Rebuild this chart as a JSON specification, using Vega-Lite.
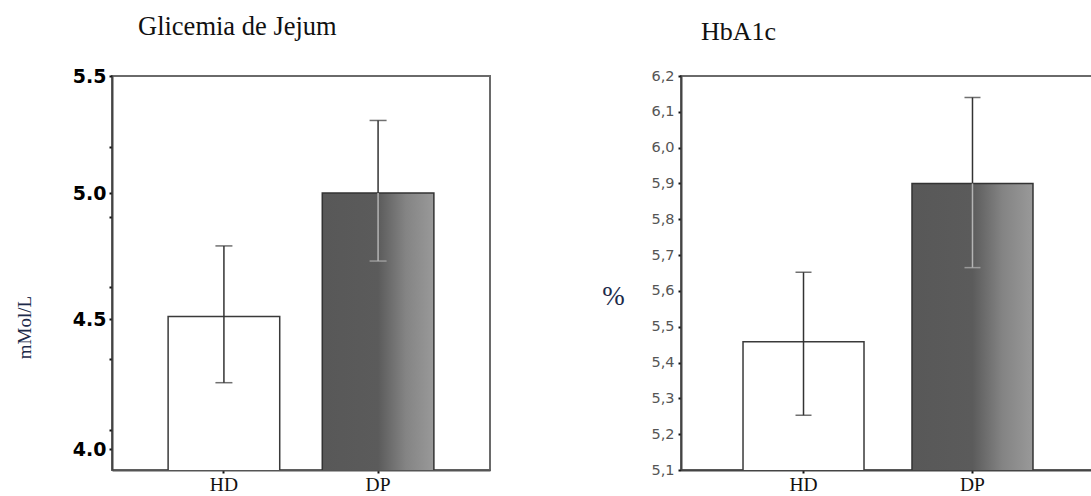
{
  "$schema": "https://vega.github.io/schema/vega-lite/v6.json",
  "background": "white",
  "padding": {"left": 14, "top": 12, "right": 0, "bottom": 0},
  "datasets": {
    "glic": [
      {"grupo": "HD", "media": 4.51, "inf": 4.255, "sup": 4.79},
      {"grupo": "DP", "media": 5.0, "inf": 4.73, "sup": 5.31}
    ],
    "hba": [
      {"grupo": "HD", "media": 5.458, "inf": 5.253, "sup": 5.652},
      {"grupo": "DP", "media": 5.9, "inf": 5.665, "sup": 6.14}
    ]
  },
  "config": {
    "view": {"stroke": "#6a6a6a", "strokeWidth": 2},
    "axis": {"grid": false, "labelOverlap": false}
  },
  "hconcat": [
    {
      "width": 378,
      "height": 394,
      "title": {"text": "Glicemia de Jejum", "anchor": "start", "frame": "group", "dx": 26, "offset": 27, "font": "Liberation Serif", "fontSize": 26.5, "fontWeight": "normal", "color": "#111111"},
      "data": {"name": "glic"},
      "encoding": {
        "x": {
          "field": "grupo", "type": "nominal", "sort": ["HD", "DP"],
          "scale": {"paddingInner": 0.276, "paddingOuter": 0.364},
          "axis": {"title": null, "labelAngle": 0, "labelFont": "Liberation Serif", "labelFontSize": 19.5, "labelColor": "#111111", "labelPadding": 2, "tickSize": 3, "tickWidth": 2, "tickColor": "#111111", "domainColor": "#555555", "domainWidth": 2}
        },
        "y": {
          "field": "media", "type": "quantitative",
          "scale": {"domain": [3.919, 4.0, 4.5, 5.0, 5.5], "range": [394, 373, 243, 117, 0], "zero": false, "nice": false},
          "axis": {
            "title": "mMol/L", "titleFont": "Liberation Serif", "titleFontSize": 19, "titleFontWeight": "normal", "titleColor": "#1c2a4a",
            "titleX": -88, "titleY": 251, "titleAlign": "center", "titleBaseline": "middle", "titleAngle": -90,
            "values": [4.0, 4.073, 4.346, 4.5, 4.627, 4.905, 5.0, 5.197, 5.5],
            "labelOverlap": false, "labelBound": false,
            "labelExpr": "indexof([4, 4.5, 5, 5.5], datum.value) >= 0 ? format(datum.value, '.1f') : ''",
            "labelFont": "DejaVu Sans", "labelFontWeight": "bold", "labelFontSize": 19, "labelColor": "#000000", "labelPadding": 3,
            "tickSize": 3, "tickWidth": 2, "tickColor": "#111111", "domainColor": "#444444", "domainWidth": 2
          }
        }
      },
      "layer": [
        {
          "transform": [{"filter": "datum.grupo == 'HD'"}],
          "mark": {"type": "bar", "clip": true, "fill": "white", "stroke": "#3a3a3a", "strokeWidth": 1.5}
        },
        {
          "transform": [{"filter": "datum.grupo == 'DP'"}],
          "mark": {
            "type": "bar", "clip": true, "stroke": "#333333", "strokeWidth": 1.5,
            "fill": {"gradient": "linear", "x1": 0, "y1": 0, "x2": 1, "y2": 0,
              "stops": [{"offset": 0, "color": "#585858"}, {"offset": 0.5, "color": "#5b5b5b"}, {"offset": 0.75, "color": "#848484"}, {"offset": 1, "color": "#999999"}]}
          }
        },
        {
          "mark": {"type": "rule", "strokeWidth": 1.5, "color": "#333333"},
          "encoding": {"y2": {"field": "sup"}}
        },
        {
          "mark": {"type": "rule", "strokeWidth": 1.5},
          "encoding": {
            "y2": {"field": "inf"},
            "color": {"condition": {"test": "datum.grupo == 'DP'", "value": "#b4b4b4"}, "value": "#333333"}
          }
        },
        {
          "mark": {"type": "tick", "orient": "horizontal", "size": 17, "thickness": 1.5, "color": "#333333"},
          "encoding": {"y": {"field": "sup", "type": "quantitative"}}
        },
        {
          "mark": {"type": "tick", "orient": "horizontal", "size": 17, "thickness": 1.5},
          "encoding": {
            "y": {"field": "inf", "type": "quantitative"},
            "color": {"condition": {"test": "datum.grupo == 'DP'", "value": "#b4b4b4"}, "value": "#333333"}
          }
        },
        {
          "data": {"values": [{"nota": "p < 0.05"}]},
          "mark": {"type": "text", "font": "Liberation Sans", "fontStyle": "italic", "fontSize": 17, "color": "#666666"},
          "encoding": {"x": {"datum": "HD"}, "y": {"datum": 5.27}, "text": {"field": "nota"}}
        }
      ]
    },
    {
      "width": 414,
      "height": 394,
      "title": {"text": "HbA1c", "anchor": "start", "frame": "group", "dx": 20, "offset": 23, "font": "Liberation Serif", "fontSize": 26, "fontWeight": "normal", "color": "#111111"},
      "data": {"name": "hba"},
      "encoding": {
        "x": {
          "field": "grupo", "type": "nominal", "sort": ["HD", "DP"],
          "scale": {"paddingInner": 0.284, "paddingOuter": 0.367},
          "axis": {"title": null, "labelAngle": 0, "labelFont": "Liberation Serif", "labelFontSize": 19.5, "labelColor": "#111111", "labelPadding": 2, "tickSize": 3, "tickWidth": 2, "tickColor": "#111111", "domainColor": "#444444", "domainWidth": 2}
        },
        "y": {
          "field": "media", "type": "quantitative",
          "scale": {"domain": [5.1, 6.2], "zero": false, "nice": false},
          "axis": {
            "title": "%", "titleFont": "Liberation Serif", "titleFontSize": 27, "titleFontWeight": "normal", "titleColor": "#1c2a4a",
            "titleX": -68, "titleY": 220, "titleAlign": "center", "titleBaseline": "middle", "titleAngle": 0,
            "values": [5.1, 5.2, 5.3, 5.4, 5.5, 5.6, 5.7, 5.8, 5.9, 6.0, 6.1, 6.2],
            "tickCount": 12,
            "labelOverlap": false, "labelBound": false, "labelFlush": false,
            "format": ".1f",
            "labelExpr": "replace(datum.label, '.', ',')",
            "labelFont": "DejaVu Sans", "labelFontSize": 14.5, "labelColor": "#555555", "labelPadding": 4,
            "tickSize": 3, "tickWidth": 2, "tickColor": "#111111", "domainColor": "#444444", "domainWidth": 2
          }
        }
      },
      "layer": [
        {
          "transform": [{"filter": "datum.grupo == 'HD'"}],
          "mark": {"type": "bar", "clip": true, "fill": "white", "stroke": "#3a3a3a", "strokeWidth": 1.5}
        },
        {
          "transform": [{"filter": "datum.grupo == 'DP'"}],
          "mark": {
            "type": "bar", "clip": true, "stroke": "#333333", "strokeWidth": 1.5,
            "fill": {"gradient": "linear", "x1": 0, "y1": 0, "x2": 1, "y2": 0,
              "stops": [{"offset": 0, "color": "#585858"}, {"offset": 0.5, "color": "#5b5b5b"}, {"offset": 0.75, "color": "#848484"}, {"offset": 1, "color": "#999999"}]}
          }
        },
        {
          "mark": {"type": "rule", "strokeWidth": 1.5, "color": "#333333"},
          "encoding": {"y2": {"field": "sup"}}
        },
        {
          "mark": {"type": "rule", "strokeWidth": 1.5},
          "encoding": {
            "y2": {"field": "inf"},
            "color": {"condition": {"test": "datum.grupo == 'DP'", "value": "#b4b4b4"}, "value": "#333333"}
          }
        },
        {
          "mark": {"type": "tick", "orient": "horizontal", "size": 16, "thickness": 1.5, "color": "#333333"},
          "encoding": {"y": {"field": "sup", "type": "quantitative"}}
        },
        {
          "mark": {"type": "tick", "orient": "horizontal", "size": 16, "thickness": 1.5},
          "encoding": {
            "y": {"field": "inf", "type": "quantitative"},
            "color": {"condition": {"test": "datum.grupo == 'DP'", "value": "#b4b4b4"}, "value": "#333333"}
          }
        },
        {
          "data": {"values": [{"nota": "p < 0.05"}]},
          "mark": {"type": "text", "font": "Liberation Sans", "fontStyle": "italic", "fontSize": 17, "color": "#666666", "dx": 20},
          "encoding": {"x": {"datum": "HD"}, "y": {"datum": 6.004}, "text": {"field": "nota"}}
        }
      ]
    }
  ],
  "spacing": 191,
  "bounds": "flush"
}
